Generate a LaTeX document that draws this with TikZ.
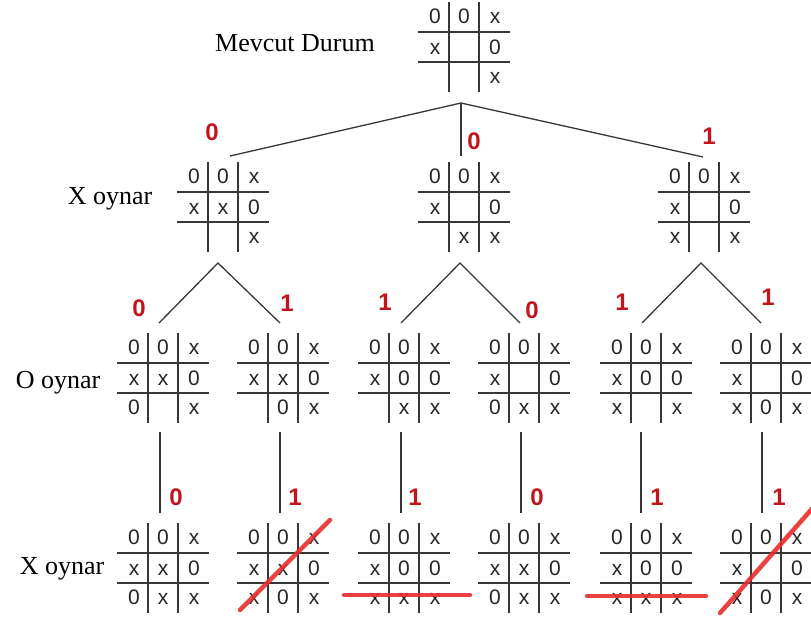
\documentclass[tikz,border=0pt]{standalone}
\usepackage{fontspec}
\setmainfont{Liberation Serif}
\newfontfamily\cellfont{Liberation Sans}
\definecolor{numred}{RGB}{195,20,30}
\definecolor{strikered}{RGB}{232,45,45}
\definecolor{ink}{RGB}{55,55,55}
\tikzset{
  gridline/.style={draw=ink, line width=1.5pt},
  boardbox/.style={draw=none, minimum width=92pt, minimum height=90pt, inner sep=0pt},
  cell/.style={anchor=base, inner sep=0pt, font=\cellfont\fontsize{21}{21}\selectfont, text=black!85},
  conn/.style={draw=ink, line width=1.3pt},
  score/.style={inner sep=0pt, text=numred, font=\cellfont\bfseries\fontsize{24}{24}\selectfont},
  rowlabel/.style={inner sep=0pt, anchor=base, font=\fontsize{26}{26}\selectfont},
  strike/.style={draw=strikered, line width=4.5pt, line cap=round, opacity=0.9}
}
\newcommand\tttrow[6]{%
  \node[cell] (#1-#2a) at (-29,#3) {#4};
  \node[cell] (#1-#2b) at (0,#3) {#5};
  \node[cell] (#1-#2c) at (31,#3) {#6};}
\newcommand\tttboard[5]{%
  \begin{scope}[shift={(#2)}]
    \node[boardbox] (#1) at (0,45) {};
    \draw[gridline] (-15,0) -- (-15,90) (15,0) -- (15,90) (-46,30) -- (46,30) (-46,60) -- (46,60);
    \tttrow{#1}{1}{21}#3
    \tttrow{#1}{2}{52}#4
    \tttrow{#1}{3}{81}#5
  \end{scope}}
\begin{document}
\begin{tikzpicture}[x=1pt, y=-1pt]
\useasboundingbox (0,0) rectangle (811,619);
\clip (0,0) rectangle (811,619);
\fill[white] (0,0) rectangle (811,619);
% labels
\node[rowlabel] (lab0) at (295,51.5) {Mevcut Durum};
\node[rowlabel] (lab1) at (110,204) {X oynar};
\node[rowlabel] (lab2) at (58,388.5) {O oynar};
\node[rowlabel] (lab3) at (62,574.5) {X oynar};
% boards
\tttboard{t}{464,2}{{0}{0}{x}}{{x}{}{0}}{{}{}{x}}
\tttboard{a1}{223,162}{{0}{0}{x}}{{x}{x}{0}}{{}{}{x}}
\tttboard{a2}{464,162}{{0}{0}{x}}{{x}{}{0}}{{}{x}{x}}
\tttboard{a3}{704,162}{{0}{0}{x}}{{x}{}{0}}{{x}{}{x}}
\tttboard{b1}{163,333}{{0}{0}{x}}{{x}{x}{0}}{{0}{}{x}}
\tttboard{b2}{283,333}{{0}{0}{x}}{{x}{x}{0}}{{}{0}{x}}
\tttboard{b3}{404,333}{{0}{0}{x}}{{x}{0}{0}}{{}{x}{x}}
\tttboard{b4}{524,333}{{0}{0}{x}}{{x}{}{0}}{{0}{x}{x}}
\tttboard{b5}{646,333}{{0}{0}{x}}{{x}{0}{0}}{{x}{}{x}}
\tttboard{b6}{766,333}{{0}{0}{x}}{{x}{}{0}}{{x}{0}{x}}
\tttboard{c1}{163,523}{{0}{0}{x}}{{x}{x}{0}}{{0}{x}{x}}
\tttboard{c2}{283,523}{{0}{0}{x}}{{x}{x}{0}}{{x}{0}{x}}
\tttboard{c3}{404,523}{{0}{0}{x}}{{x}{0}{0}}{{x}{x}{x}}
\tttboard{c4}{524,523}{{0}{0}{x}}{{x}{x}{0}}{{0}{x}{x}}
\tttboard{c5}{646,523}{{0}{0}{x}}{{x}{0}{0}}{{x}{x}{x}}
\tttboard{c6}{766,523}{{0}{0}{x}}{{x}{}{0}}{{x}{0}{x}}
% connector end points
\coordinate (tbot) at (461,103);
\coordinate (a1top) at (230,156);
\coordinate (a2top) at (461,156);
\coordinate (a3top) at (703,157);
\coordinate (a1bot) at (218,263);
\coordinate (a2bot) at (460,263);
\coordinate (a3bot) at (701,263);
\coordinate (b1top) at (159,323);
\coordinate (b2top) at (280,323);
\coordinate (b3top) at (401,323);
\coordinate (b4top) at (520,323);
\coordinate (b5top) at (642,323);
\coordinate (b6top) at (761,323);
\foreach \i/\x in {1/160,2/280,3/401,4/521,5/641,6/762}{
  \coordinate (b\i bot) at (\x,432);
  \coordinate (c\i top) at (\x,513);
}
% connectors
\draw[conn] (a1top) -- (tbot) -- (a3top);
\draw[conn] (tbot) -- (a2top);
\draw[conn] (b1top) -- (a1bot) -- (b2top);
\draw[conn] (b3top) -- (a2bot) -- (b4top);
\draw[conn] (b5top) -- (a3bot) -- (b6top);
\foreach \i in {1,...,6}{\draw[conn] (b\i bot) -- (c\i top);}
% scores
\node[score] (s1) at (212,132) {0};
\node[score] (s2) at (474,141) {0};
\node[score] (s3) at (709,136) {1};
\node[score] (s4) at (139,308) {0};
\node[score] (s5) at (287,303) {1};
\node[score] (s6) at (385,302) {1};
\node[score] (s7) at (532,310) {0};
\node[score] (s8) at (622,302) {1};
\node[score] (s9) at (768,297) {1};
\node[score] (s10) at (176,497) {0};
\node[score] (s11) at (295,497) {1};
\node[score] (s12) at (415,497) {1};
\node[score] (s13) at (537,497) {0};
\node[score] (s14) at (657,497) {1};
\node[score] (s15) at (779,497) {1};
% strikes
\draw[strike] (240,610) -- (330,520);
\draw[strike] (344,595) -- (470,595);
\draw[strike] (587,596) -- (706,596);
\draw[strike] (720,613) -- (818,502);
\end{tikzpicture}
\end{document}
